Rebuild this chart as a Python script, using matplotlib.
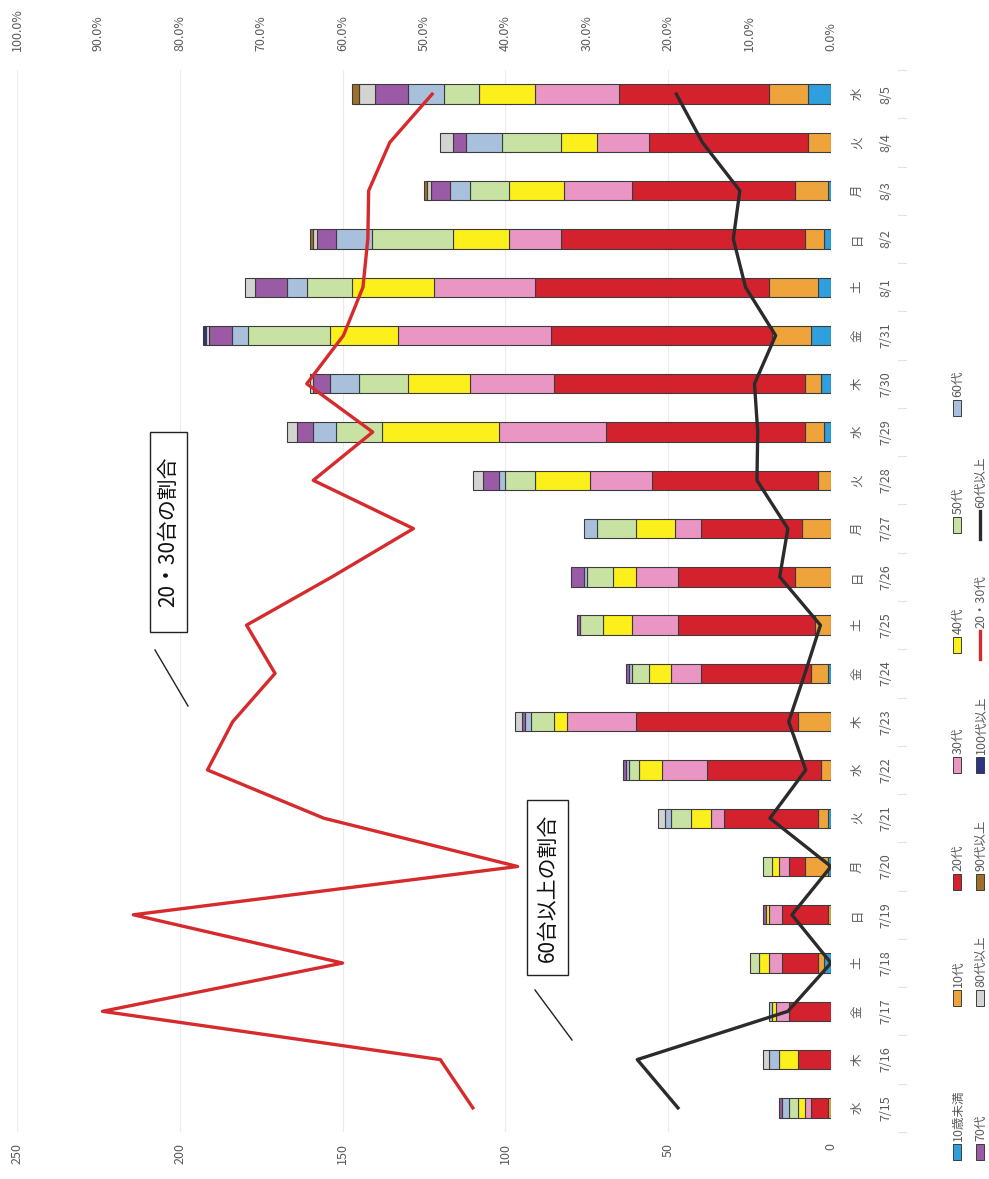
import matplotlib
matplotlib.use('Agg')
import matplotlib.pyplot as plt
import matplotlib.transforms as mtransforms
from matplotlib.patches import Rectangle
from matplotlib.lines import Line2D
import numpy as np

plt.rcParams['font.family'] = ['Noto Sans CJK JP', 'DejaVu Sans']

# ---------------- data ----------------
dates = ['7/15', '7/16', '7/17', '7/18', '7/19', '7/20', '7/21', '7/22', '7/23', '7/24', '7/25',
         '7/26', '7/27', '7/28', '7/29', '7/30', '7/31', '8/1', '8/2', '8/3', '8/4', '8/5']
weekdays = ['水', '木', '金', '土', '日', '月', '火', '水', '木', '金', '土',
            '日', '月', '火', '水', '木', '金', '土', '日', '月', '火', '水']

under10 = [0, 0, 0, 2, 0, 1, 1, 0, 0, 1, 0, 0, 0, 0, 2, 3, 6, 4, 2, 1, 0, 7]
age10 = [1, 0, 0, 2, 1, 7, 3, 3, 10, 5, 5, 11, 9, 4, 6, 5, 12, 15, 6, 10, 7, 12]
age20 = [5, 10, 13, 11, 14, 5, 29, 35, 50, 34, 42, 36, 31, 51, 61, 77, 68, 72, 75, 50, 49, 46]
age30 = [2, 0, 4, 4, 4, 3, 4, 14, 21, 9, 14, 13, 8, 19, 33, 26, 47, 31, 16, 21, 16, 26]
age40 = [2, 6, 1, 3, 1, 2, 6, 7, 4, 7, 9, 7, 12, 17, 36, 19, 21, 25, 17, 17, 11, 17]
age50 = [3, 0, 0, 3, 0, 3, 6, 3, 7, 5, 7, 8, 12, 9, 14, 15, 25, 14, 25, 12, 18, 11]
age60 = [2, 3, 1, 0, 0, 0, 2, 1, 2, 1, 0, 1, 4, 2, 7, 9, 5, 6, 11, 6, 11, 11]
age70 = [1, 0, 0, 0, 1, 0, 0, 1, 1, 1, 1, 4, 0, 5, 5, 5, 7, 10, 6, 6, 4, 10]
age80 = [0, 2, 0, 0, 0, 0, 2, 0, 2, 0, 0, 0, 0, 3, 3, 1, 1, 3, 1, 1, 4, 5]
age90 = [0, 0, 0, 0, 0, 0, 0, 0, 0, 0, 0, 0, 0, 0, 0, 0, 0, 0, 1, 1, 0, 2]
age100 = [0, 0, 0, 0, 0, 0, 0, 0, 0, 0, 0, 0, 0, 0, 0, 0, 1, 0, 0, 0, 0, 0]

ratio_20_30 = [44, 48, 89.5, 60, 85.7, 38.5, 62.3, 76.6, 73.5, 68.3, 71.8,
               61.3, 51.3, 63.6, 56.3, 64.4, 59.9, 57.5, 56.9, 56.8, 54.2, 49]
ratio_60plus = [18.8, 23.8, 5.3, 0, 4.8, 0, 7.5, 3.1, 5.2, 3.2, 1.3,
                6.3, 5.3, 9.1, 9.0, 9.4, 6.8, 10.5, 12, 11.2, 15.8, 19]

series_names = ['10歳未満', '10代', '20代', '30代', '40代', '50代', '60代',
                '70代', '80代以上', '90代以上', '100代以上']
series_vals = [under10, age10, age20, age30, age40, age50, age60,
               age70, age80, age90, age100]
series_colors = ['#2f9fdd', '#eea43a', '#d3222e', '#e996c4', '#fbef1c', '#c8e2a4',
                 '#a9c0dc', '#9a5aa6', '#d3d3d1', '#a06f2c', '#2b3585']
line_names = ['20・30代', '60代以上']
line_colors = ['#d62a2c', '#2b2b2b']

count_ticks = [0, 50, 100, 150, 200, 250]
pct_ticks = [0, 10, 20, 30, 40, 50, 60, 70, 80, 90, 100]

# ---------------- figure ----------------
W, H = 989, 1179
fig = plt.figure(figsize=(W / 100, H / 100), dpi=100)
fig.patch.set_facecolor('white')


def fx(x):
    return x / W


def fy(y):
    return 1 - y / H


AX_L, AX_R, AX_T, AX_B = 17, 831, 70, 1132
ax = fig.add_axes([fx(AX_L), fy(AX_B), (AX_R - AX_L) / W, (AX_B - AX_T) / H])
ax.set_xlim(250, 0)
n = len(dates)
ax.set_ylim(-0.5, n - 0.5)
ypos = np.arange(n)

left = np.zeros(n)
for vals, color in zip(series_vals, series_colors):
    v = np.array(vals, float)
    m = v > 0
    ax.barh(ypos[m], v[m], left=left[m], height=0.4, color=color,
            edgecolor='#3c3c3c', linewidth=0.8, zorder=2)
    left += v

ax.set_xticks(count_ticks)
ax.set_xticklabels([str(t) for t in count_ticks], rotation=90)
ax.tick_params(axis='x', length=0, pad=8, labelsize=9, labelcolor='#5a5a5a')
ax.set_yticks([])
ax.grid(axis='x', color='#ececec', linewidth=0.8, zorder=0)
ax.set_axisbelow(True)
for s in ax.spines.values():
    s.set_visible(False)

ax2 = ax.twiny()
ax2.set_xlim(100, 0)
ax2.set_xticks(pct_ticks)
ax2.set_xticklabels([f'{t:.1f}%' for t in pct_ticks], rotation=90)
ax2.tick_params(axis='x', length=0, pad=14, labelsize=9, labelcolor='#5a5a5a')
for s in ax2.spines.values():
    s.set_visible(False)
ax2.plot(ratio_20_30, ypos, color=line_colors[0], lw=2.4, zorder=3)
ax2.plot(ratio_60plus, ypos, color=line_colors[1], lw=2.4, zorder=3)

# category labels on the right
trans = mtransforms.blended_transform_factory(ax.transAxes, ax.transData)
wx = (857 - AX_L) / (AX_R - AX_L)
dx = (886 - AX_L) / (AX_R - AX_L)
for i, (d, w) in enumerate(zip(dates, weekdays)):
    ax.text(wx, i, w, transform=trans, rotation=90, ha='center', va='center',
            fontsize=9, color='#5a5a5a', clip_on=False)
    ax.text(dx, i, d, transform=trans, rotation=90, ha='center', va='center',
            fontsize=9, color='#5a5a5a', clip_on=False)
for i in range(n + 1):
    ax.plot([(898 - AX_L) / (AX_R - AX_L), (906 - AX_L) / (AX_R - AX_L)], [i - 0.5, i - 0.5],
            transform=trans, color='#e2e2e2', lw=0.8, clip_on=False)

# ---------------- legend (manual, rotated) ----------------
colA = 957
colB = 980
rows_y = [1152, 998, 882, 765, 645, 525, 408]
legend_entries = []
for k in range(7):
    legend_entries.append((colA, rows_y[k], 'patch', series_colors[k], series_names[k]))
for k in range(4):
    legend_entries.append((colB, rows_y[k], 'patch', series_colors[7 + k], series_names[7 + k]))
legend_entries.append((colB, rows_y[4], 'line', line_colors[0], line_names[0]))
legend_entries.append((colB, rows_y[5], 'line', line_colors[1], line_names[1]))

for (x, y, kind, color, label) in legend_entries:
    if kind == 'patch':
        pw, ph = 8, 16
        fig.add_artist(Rectangle((fx(x - pw / 2), fy(y + ph / 2)), pw / W, ph / H,
                                 transform=fig.transFigure, facecolor=color,
                                 edgecolor='#3c3c3c', linewidth=0.7))
        ytxt = y - ph / 2 - 3
    else:
        fig.add_artist(Line2D([fx(x), fx(x)], [fy(y + 14), fy(y - 14)],
                              transform=fig.transFigure, color=color, lw=2.4))
        ytxt = y - 17
    fig.text(fx(x + 1), fy(ytxt), label, rotation=90, rotation_mode='anchor',
             ha='left', va='center', fontsize=9, color='#5a5a5a')

# ---------------- annotation boxes ----------------
def note_box(x0, y0, x1, y1, text, lx0, ly0, lx1, ly1):
    fig.add_artist(Rectangle((fx(x0), fy(y1)), (x1 - x0) / W, (y1 - y0) / H,
                             transform=fig.transFigure, facecolor='white',
                             edgecolor='#222222', linewidth=1.0, zorder=5))
    fig.text(fx((x0 + x1) / 2), fy((y0 + y1) / 2), text, rotation=90,
             ha='center', va='center', fontsize=15, color='#111111', zorder=6)
    fig.add_artist(Line2D([fx(lx0), fx(lx1)], [fy(ly0), fy(ly1)],
                          transform=fig.transFigure, color='#222222', lw=1.0))


note_box(150, 432, 187, 632, '20・30台の割合', 155, 650, 188, 706)
note_box(527, 800, 568, 975, '60台以上の割合', 535, 990, 572, 1040)

fig.savefig('out.png', dpi=100, facecolor='white')
